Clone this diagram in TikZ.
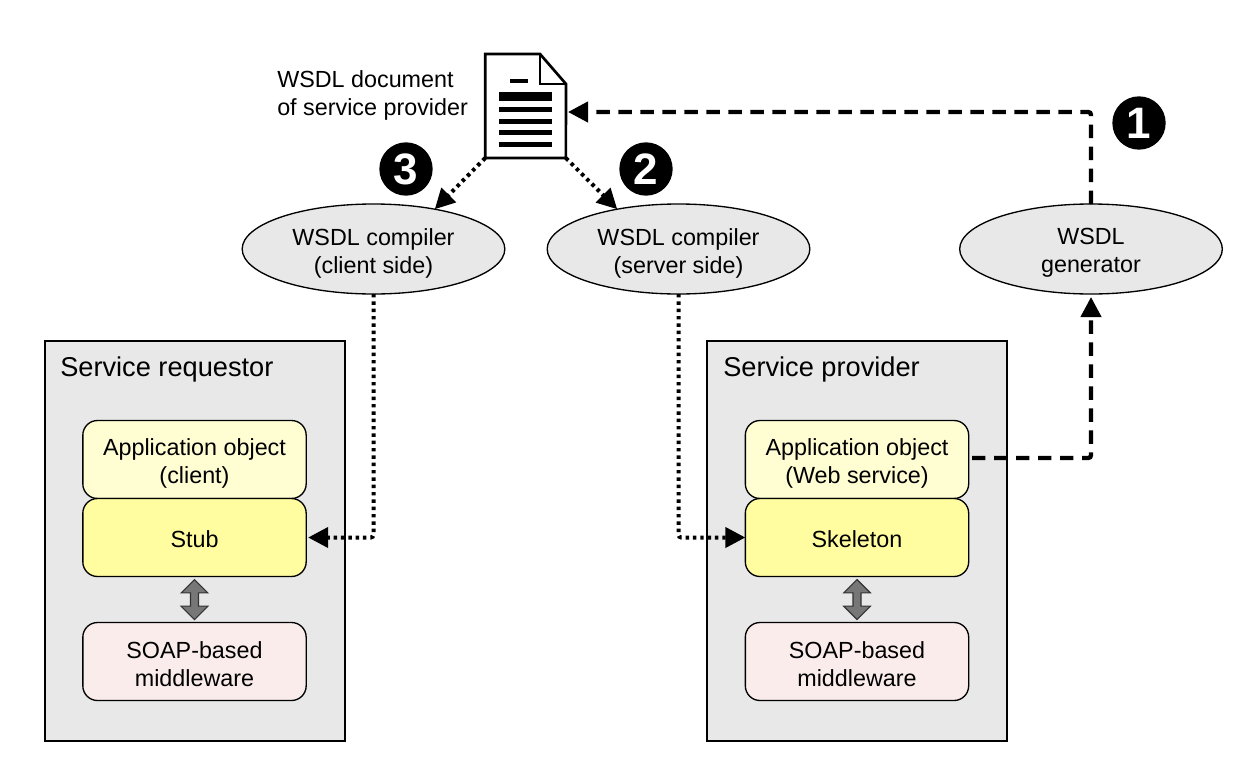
\documentclass[tikz,border=0pt]{standalone}
\usepackage{xcolor}
\usepackage{fontspec}
\setmainfont{Liberation Sans}
\usepackage{tikz}
\usetikzlibrary{positioning, calc, arrows.meta, shapes.geometric, shapes.arrows}
\definecolor{groupgray}{HTML}{E8E8E8}
\definecolor{appyellow}{HTML}{FFFDD2}
\definecolor{stubyellow}{HTML}{FFFD9F}
\definecolor{soappink}{HTML}{FBECEC}
\definecolor{blockgray}{HTML}{777777}
\newcommand{\lowline}[1][19pt]{\rule{0pt}{#1}}

\begin{document}
\begin{tikzpicture}[
    x=0.75pt, y=-0.75pt,
    group_box/.style={rectangle, draw, line width=2pt, fill=groupgray, minimum width=225pt, minimum height=300pt, outer sep=0pt},
    group_label/.style={font=\fontsize{20.4}{24}\selectfont, anchor=west, inner sep=0pt},
    layer_box/.style={rectangle, draw, line width=1pt, rounded corners=11pt, minimum width=167.5pt, minimum height=58.5pt, align=center, inner sep=0pt, outer sep=0pt, font=\fontsize{17.5}{21}\selectfont},
    tool_oval/.style={ellipse, draw, line width=1pt, fill=groupgray, minimum width=197pt, minimum height=67.5pt, align=center, inner sep=0pt, outer sep=0pt, font=\fontsize{17.5}{21}\selectfont},
    step_mark/.style={circle, fill=black, text=white, minimum size=40pt, inner sep=0pt, font=\fontsize{33}{33}\selectfont\bfseries},
    both_arrow/.style={double arrow, draw=black!80, line width=0.8pt, fill=blockgray, rotate=90, minimum height=30pt, minimum width=20pt, inner sep=2.6pt, double arrow head extend=7pt},
    dash_arrow/.style={line width=3.2pt, rounded corners=2pt, dash pattern=on 10pt off 6.5pt, -{Triangle[length=15pt, width=15pt]}},
    dot_arrow/.style={line width=3pt, rounded corners=2pt, dash pattern=on 2.6pt off 2.9pt, -{Triangle[length=15pt, width=15pt]}}
]
    \useasboundingbox (0,0) rectangle (1234,764);

    % Service requestor
    \node[group_box] (Requestor) at (195,541) {};
    \node[group_label] (RequestorLabel) at (60,369) {Service requestor};
    \node[layer_box, fill=appyellow] (AppClient) at (194.5,459.5) {\lowline Application object\\(client)};
    \node[layer_box, fill=stubyellow, below=0pt of AppClient] (Stub) {\lowline[15.6pt]Stub};
    \node[layer_box, fill=soappink, below=34.5pt of Stub] (SoapClient) {\lowline[16.5pt]SOAP-based\\middleware};
    \node[both_arrow] (LinkClient) at ($(Stub.south)!.5!(SoapClient.north)$) {};

    % Service provider
    \node[group_box] (Provider) at (857,541) {};
    \node[group_label] (ProviderLabel) at (723,369) {Service provider};
    \node[layer_box, fill=appyellow] (AppServer) at (857,459.5) {\lowline Application object\\(Web service)};
    \node[layer_box, fill=stubyellow, below=0pt of AppServer] (Skeleton) {\lowline[15.6pt]Skeleton};
    \node[layer_box, fill=soappink, below=34.5pt of Skeleton] (SoapServer) {\lowline[16.5pt]SOAP-based\\middleware};
    \node[both_arrow] (LinkServer) at ($(Skeleton.south)!.5!(SoapServer.north)$) {};

    % Tools
    \node[tool_oval] (CompilerClient) at (373.5,249) {\lowline WSDL compiler\\(client side)};
    \node[tool_oval] (CompilerServer) at (678.5,249) {\lowline WSDL compiler\\(server side)};
    \node[tool_oval] (Generator) at (1091,249) {\lowline[17.5pt]WSDL\\generator};

    % WSDL document
    \node[minimum width=60.5pt, minimum height=78pt, inner sep=0pt, outer sep=0pt] (Doc) at (525.5,106) {};
    \draw[line width=2pt, fill=white, line join=miter] (Doc.south west) -- (Doc.north west) -- (540,54) -- (566,84) -- (Doc.south east) -- cycle;
    \draw[line width=2pt, line join=miter] (540,54) -- (540,84) -- (566,84);
    \fill (510,78.5) rectangle (528,82.5);
    \fill (499,92) rectangle (552,101);
    \foreach \y in {107,119,130,142}
        \fill (499,\y) rectangle (552,\y+5);
    \node[font=\fontsize{17.5}{21}\selectfont, align=left, anchor=west, inner sep=0pt] (DocLabel) at (277,95.5) {WSDL document\\of service provider};

    % Numbers
    \node[step_mark] (Mark1) at (1139,123) {1};
    \node[step_mark] (Mark2) at (646,169) {2};
    \node[step_mark] (Mark3) at (406,169) {3};

    % Dashed paths
    \coordinate (DocPort) at (568,112);
    \coordinate (AppPort) at (972,458);
    \coordinate (GenPort) at (1091,297);
    \draw[dash_arrow] (Generator.north) |- (DocPort);
    \draw[dash_arrow] (AppPort) -| (GenPort);

    % Dotted paths
    \draw[dot_arrow] (Doc.south west) -- (CompilerClient.33);
    \draw[dot_arrow] (Doc.south east) -- (CompilerServer.147);
    \draw[dot_arrow] (CompilerClient.south) |- ($(Stub.east)+(2,0)$);
    \draw[dot_arrow] (CompilerServer.south) |- (Skeleton.west);
\end{tikzpicture}
\end{document}
